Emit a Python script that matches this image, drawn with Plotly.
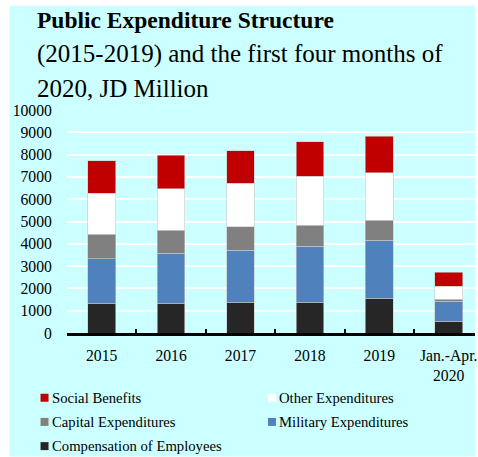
import plotly.graph_objects as go

# Public expenditure by component, JD million
years = ["2015", "2016", "2017", "2018", "2019", "Jan.-Apr.<br>2020"]
compensation = [1330, 1340, 1370, 1390, 1550, 520]
military = [2000, 2230, 2330, 2510, 2610, 900]
capital = [1090, 1030, 1060, 940, 900, 100]
other = [1850, 1860, 1960, 2180, 2130, 580]
social = [1460, 1500, 1460, 1560, 1630, 620]

series_names = ["Compensation of Employees", "Military Expenditures",
                "Capital Expenditures", "Other Expenditures", "Social Benefits"]
series_values = [compensation, military, capital, other, social]
series_colors = ["#262626", "#4F81BD", "#808080", "#FFFFFF", "#C00000"]

y_ticks = list(range(0, 10001, 1000))

W, H = 478, 457
L, R, T, B = 66.5, 3, 110.3, 123.5
PW, PH = W - L - R, H - T - B
BG = "#CCFFFF"
SERIF = "Liberation Serif"


def fx(x):
    return (x - L) / PW


def fy(y):
    return (H - B - y) / PH


fig = go.Figure()
for name, vals, col in zip(series_names, series_values, series_colors):
    fig.add_trace(go.Bar(
        x=years, y=vals, name=name, showlegend=False,
        marker=dict(color=col, line=dict(color="rgba(200,200,200,0.8)", width=0.75)),
    ))

shapes = [dict(type="rect", xref="paper", yref="paper",
               x0=fx(9), x1=fx(475), y0=fy(6), y1=fy(457),
               fillcolor=BG, line=dict(width=0), layer="below")]

annotations = [
    dict(text="<b>Public Expenditure Structure</b>", x=fx(34), y=fy(5.5),
         font=dict(size=23.5, family=SERIF, color="black")),
    dict(text="(2015-2019) and the first four months of", x=fx(34), y=fy(38.5),
         font=dict(size=25, family=SERIF, color="black")),
    dict(text="2020, JD Million", x=fx(34), y=fy(73.5),
         font=dict(size=25, family=SERIF, color="black")),
]
for a in annotations:
    a.update(xref="paper", yref="paper", xanchor="left", yanchor="top",
             showarrow=False, align="left")

# legend entries, listed from the top of the stack down
legend_items = list(zip(series_names, series_colors))[::-1]
cols_x = [40, 267.7]
rows_y = [398.3, 422.5, 446.7]
for i, (name, col) in enumerate(legend_items):
    cx = cols_x[i % 2]
    cy = rows_y[i // 2]
    shapes.append(dict(type="rect", xref="paper", yref="paper",
                       x0=fx(cx), x1=fx(cx + 8), y0=fy(cy - 4), y1=fy(cy + 4),
                       fillcolor=col, line=dict(width=0)))
    annotations.append(dict(text=name, xref="paper", yref="paper",
                            x=fx(cx + 9.5), y=fy(cy), xanchor="left", yanchor="middle",
                            showarrow=False,
                            font=dict(size=14.7, family=SERIF, color="black")))

fig.update_layout(
    width=W, height=H,
    margin=dict(l=L, r=R, t=T, b=B, autoexpand=False),
    paper_bgcolor="white",
    plot_bgcolor=BG,
    barmode="stack",
    bargap=0.6,
    shapes=shapes,
    annotations=annotations,
    showlegend=False,
    xaxis=dict(
        type="category", range=[-0.5, 5.379],
        showline=True, linecolor="black", linewidth=2.5,
        ticks="inside", tickson="boundaries", ticklen=4, tickwidth=2, tickcolor="black",
        showgrid=False, ticklabelstandoff=6,
        tickfont=dict(size=15.7, family=SERIF, color="black"),
    ),
    yaxis=dict(
        range=[0, 10000], tickvals=y_ticks, ticktext=[str(v) for v in y_ticks],
        showgrid=True, gridcolor="white", gridwidth=2,
        zeroline=False, showline=False,
        ticks="outside", ticklen=11, tickcolor="rgba(0,0,0,0)",
        tickfont=dict(size=15.7, family=SERIF, color="black"),
    ),
)

fig.write_html("out.html")
